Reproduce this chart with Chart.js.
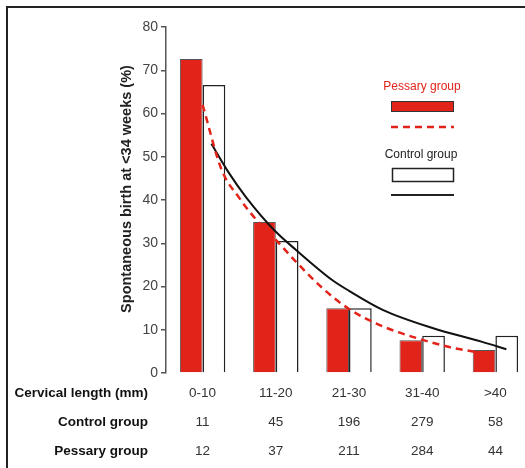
<!DOCTYPE html>
<html>
<head>
<meta charset="utf-8">
<script src="https://cdn.jsdelivr.net/npm/chart.js@4/dist/chart.umd.min.js"></script>
<style>
  html, body { margin: 0; padding: 0; background: #fff; overflow: hidden; }
  #wrap { position: relative; width: 525px; height: 468px; overflow: hidden; }
  #chart { position: absolute; left: 0; top: 0; }
  #frame { position: absolute; left: 6px; top: 6px; width: 700px; height: 700px;
           border-left: 2px solid #222; border-top: 2px solid #222; pointer-events: none; }
</style>
</head>
<body>
<div id="wrap">
  <canvas id="chart" width="532" height="468"></canvas>
  <div id="frame"></div>
</div>
<script>
// cervical length classes (mm) and their mid values
var categories = ['0-10', '11-20', '21-30', '31-40', '>40'];
var classMidMm = [5, 15, 25, 35, 45];

// % spontaneous birth < 34 weeks
var pessaryPct = [72.6, 34.9, 15.0, 7.6, 5.3];
var controlPct = [66.6, 30.5, 15.0, 8.6, 8.6];

// numbers under the chart
var controlN = [11, 45, 196, 279, 58];
var pessaryN = [12, 37, 211, 284, 44];
var rowHeaders = ['Cervical length (mm)', 'Control group', 'Pessary group'];

// fitted curves (cervical length mm, %)
var pessaryFitMm  = [5.0, 7.6, 10, 12.3, 15, 17.6, 21.4, 25, 29.6, 34.2, 38.7, 42.1];
var pessaryFitPct = [62, 47, 40.5, 35.5, 30.8, 26, 19.6, 14.8, 10.8, 8.1, 6.0, 4.9];
var controlFitMm  = [6.2, 8.5, 11, 14.8, 17.8, 22.7, 25, 29.6, 36.4, 43.2, 46.5];
var controlFitPct = [53, 46.5, 40.5, 33, 28.4, 21.5, 19, 14.6, 10.4, 7.2, 5.5];

var yTitle = 'Spontaneous birth at <34 weeks (%)';

var RED = '#e2231a';
var FONT = '"Liberation Sans", Arial, sans-serif';
var ROW_H = 29;

function zip(xs, ys) {
    return xs.map(function (x, i) { return {x: x, y: ys[i]}; });
}

var extras = {
    id: 'extras',
    afterDraw: function (chart) {
        var ctx = chart.ctx;
        var area = chart.chartArea;
        ctx.save();

        // y title
        ctx.translate(127, 189);
        ctx.rotate(-Math.PI / 2);
        ctx.font = 'bold 14.5px ' + FONT;
        ctx.fillStyle = '#222';
        ctx.textAlign = 'center';
        ctx.textBaseline = 'middle';
        ctx.fillText(yTitle, 0, 0);
        ctx.setTransform(1, 0, 0, 1, 0, 0);

        // row headers of the table
        ctx.font = 'bold 13.5px ' + FONT;
        ctx.fillStyle = '#111';
        ctx.textAlign = 'right';
        var y0 = area.bottom + 6 + ROW_H / 2;
        rowHeaders.forEach(function (t, k) {
            ctx.fillText(t, 148, y0 + k * ROW_H);
        });

        // legend
        var ds = chart.data.datasets;
        ctx.textAlign = 'center';
        ctx.font = '12px ' + FONT;
        ctx.fillStyle = RED;
        ctx.fillText(ds[0].label, 422, 87);
        ctx.fillRect(391, 101, 63, 11);
        ctx.strokeStyle = '#333';
        ctx.lineWidth = 1;
        ctx.strokeRect(391.5, 101.5, 62, 10);
        ctx.strokeStyle = RED;
        ctx.lineWidth = 2.5;
        ctx.setLineDash([7, 5]);
        ctx.beginPath(); ctx.moveTo(391, 127); ctx.lineTo(454, 127); ctx.stroke();
        ctx.setLineDash([]);

        ctx.fillStyle = '#222';
        ctx.fillText(ds[1].label, 421, 155);
        ctx.fillStyle = '#fff';
        ctx.fillRect(392, 168, 62, 14);
        ctx.strokeStyle = '#222';
        ctx.lineWidth = 1.5;
        ctx.strokeRect(392.5, 168.5, 61, 13);
        ctx.lineWidth = 2;
        ctx.beginPath(); ctx.moveTo(391, 195); ctx.lineTo(454, 195); ctx.stroke();

        ctx.restore();
    }
};

new Chart(document.getElementById('chart'), {
    type: 'bar',
    data: {
        datasets: [
            {label: 'Pessary group', data: zip(classMidMm, pessaryPct), backgroundColor: RED,
             borderColor: '#555', borderWidth: 1, order: 2,
             categoryPercentage: 0.62, barPercentage: 1.0},
            {label: 'Control group', data: zip(classMidMm, controlPct), backgroundColor: '#fff',
             borderColor: '#222', borderWidth: 1.5, order: 2,
             categoryPercentage: 0.62, barPercentage: 1.0},
            {type: 'line', label: 'Pessary fit', data: zip(pessaryFitMm, pessaryFitPct),
             borderColor: RED, borderWidth: 2.5, borderDash: [7, 5],
             pointRadius: 0, cubicInterpolationMode: 'monotone', fill: false, order: 0},
            {type: 'line', label: 'Control fit', data: zip(controlFitMm, controlFitPct),
             borderColor: '#111', borderWidth: 2,
             pointRadius: 0, cubicInterpolationMode: 'monotone', fill: false, order: 0}
        ]
    },
    options: {
        responsive: false,
        animation: false,
        layout: {padding: {left: 126, top: 27, right: 0, bottom: 0}},
        plugins: {legend: {display: false}, tooltip: {enabled: false}},
        scales: {
            x: {
                type: 'linear',
                min: 0, max: 50,
                offset: false,
                grid: {display: false, drawTicks: false},
                border: {display: false},
                afterBuildTicks: function (s) {
                    s.ticks = classMidMm.map(function (v) { return {value: v}; });
                },
                ticks: {
                    padding: 6,
                    color: '#333',
                    font: {family: FONT, size: 13.5, lineHeight: ROW_H / 13.5},
                    maxRotation: 0,
                    autoSkip: false,
                    callback: function (v, i) {
                        return [categories[i], String(controlN[i]), String(pessaryN[i])];
                    }
                },
                afterFit: function (s) { s.height = 95; }
            },
            y: {
                min: 0, max: 80,
                ticks: {stepSize: 10, color: '#444', padding: 3, font: {family: FONT, size: 14}},
                grid: {drawOnChartArea: false, tickLength: 5, color: '#555', lineWidth: 1.5},
                border: {color: '#555', width: 1.5},
                afterFit: function (s) { s.width = 40; }
            }
        }
    },
    plugins: [extras]
});
</script>
</body>
</html>
